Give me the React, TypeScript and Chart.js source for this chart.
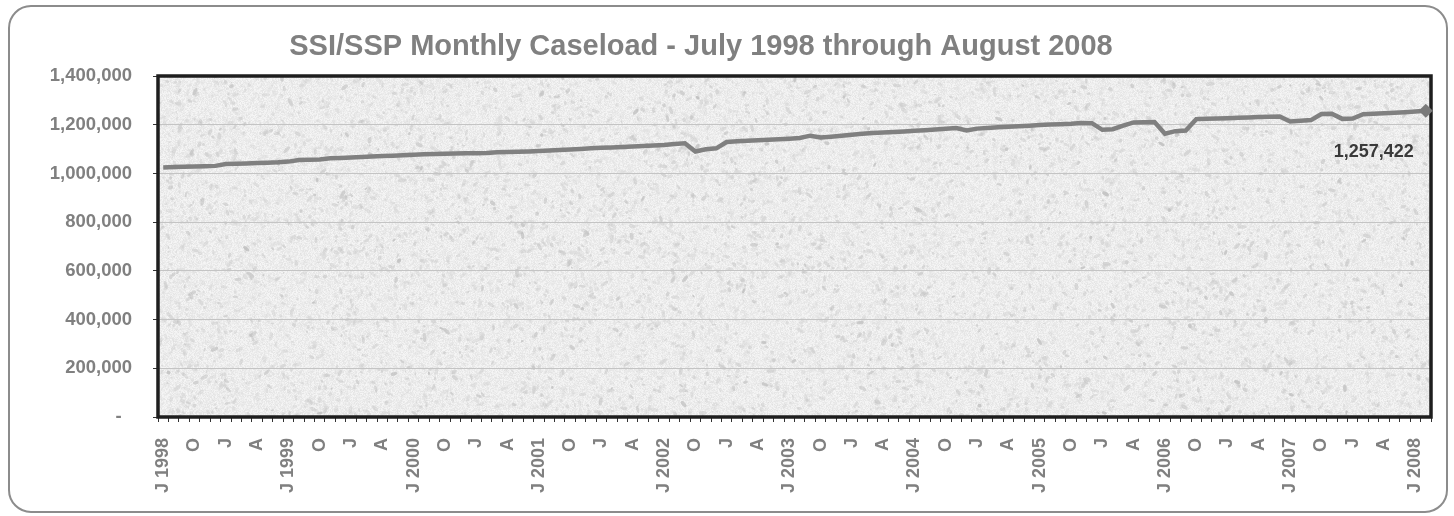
import React, { useEffect, useRef } from "react";
import { Chart, registerables } from "chart.js";

Chart.register(...registerables);

// ---- Data ----
const monthNames = ["Jul", "Aug", "Sep", "Oct", "Nov", "Dec", "Jan", "Feb", "Mar", "Apr", "May", "Jun"];
const monthInitials = ["J", "A", "S", "O", "N", "D", "J", "F", "M", "A", "M", "J"];
const firstYear = 1998;
const monthCount = 122; // July 1998 .. August 2008

const categories: string[] = [];
const tickLabels: string[] = [];
for (let i = 0; i < monthCount; i++) {
  const year = firstYear + Math.floor((i + 6) / 12);
  categories.push(`${monthNames[i % 12]} ${year}`);
  if (i % 3 === 0) {
    tickLabels.push(i % 12 === 0 ? `J ${year}` : monthInitials[i % 12]);
  } else {
    tickLabels.push("");
  }
}

const caseload = [
  1024500, 1026000, 1027500, 1028500, 1029500, 1031000, 1038500, 1039500, 1041000, 1042500, 1044000, 1045500,
  1048500, 1055000, 1056000, 1057500, 1062000, 1063500, 1065000, 1067000, 1069000, 1071500, 1073000, 1075000,
  1077000, 1079000, 1080000, 1081000, 1081500, 1082500, 1083000, 1084000, 1086500, 1087500, 1089000, 1090500,
  1092500, 1094500, 1096500, 1098500, 1100500, 1103000, 1105000, 1106500, 1108500, 1110500, 1112500, 1114500,
  1117000, 1120500, 1124000, 1090000, 1099000, 1103000, 1129000, 1132000, 1134000, 1136000, 1138000, 1140000,
  1142500, 1145500, 1155000, 1147500, 1151000, 1155000, 1159000, 1163000, 1166000, 1168000, 1170500, 1172500,
  1175000, 1177500, 1180000, 1183000, 1186500, 1176000, 1184000, 1187000, 1190000, 1192000, 1194000, 1196000,
  1198500, 1200500, 1202000, 1204000, 1207500, 1206500, 1179000, 1181500, 1196000, 1209500, 1210500, 1211000,
  1163000, 1173500, 1176000, 1223000, 1224000, 1225500, 1227000, 1228500, 1230000, 1231500, 1232500, 1233500,
  1213000, 1216000, 1219000, 1244000, 1245000, 1224000, 1225000, 1243000, 1245500, 1247500, 1249500, 1251500,
  1254000, 1257422,
];

const yTicks = [0, 200000, 400000, 600000, 800000, 1000000, 1200000, 1400000];
const chartTitle = "SSI/SSP Monthly Caseload - July 1998 through August 2008";

const FONT = "Arial, 'Liberation Sans', sans-serif";
const W = 1454;
const H = 516;

function makeTexture(w: number, h: number): HTMLCanvasElement {
  const c = document.createElement("canvas");
  c.width = w;
  c.height = h;
  const g = c.getContext("2d")!;
  let s = 987654321;
  const rnd = () => {
    s = (s * 1103515245 + 12345) & 0x7fffffff;
    return s / 0x7fffffff;
  };
  const img = g.createImageData(w, h);
  for (let p = 0; p < w * h; p++) {
    const v = Math.round(237 + (rnd() - 0.5) * 18);
    img.data[p * 4] = v;
    img.data[p * 4 + 1] = v;
    img.data[p * 4 + 2] = v;
    img.data[p * 4 + 3] = 255;
  }
  g.putImageData(img, 0, 0);
  const n = Math.round((w * h) / 40);
  for (let k = 0; k < n; k++) {
    const x = rnd() * w;
    const y = rnd() * h;
    const r = 0.5 + rnd() * 1.4;
    const gray = Math.round(185 + rnd() * 40);
    g.fillStyle = `rgba(${gray},${gray},${gray},${0.2 + rnd() * 0.35})`;
    g.beginPath();
    g.ellipse(x, y, r * (1 + rnd() * 1.5), r, rnd() * Math.PI, 0, Math.PI * 2);
    g.fill();
  }
  return c;
}

export default function App() {
  const ref = useRef<HTMLCanvasElement | null>(null);

  useEffect(() => {
    const canvas = ref.current;
    if (!canvas) return;
    const texture = makeTexture(1300, 360);

    const decor = {
      id: "decor",
      beforeDraw(chart: any) {
        const ctx = chart.ctx as CanvasRenderingContext2D;
        const a = chart.chartArea;
        ctx.save();
        ctx.fillStyle = "#ffffff";
        ctx.fillRect(0, 0, W, H);
        // outer rounded frame
        const x0 = 9, y0 = 6, x1 = 1447, y1 = 512, r = 22;
        ctx.beginPath();
        ctx.moveTo(x0 + r, y0);
        ctx.lineTo(x1 - r, y0);
        ctx.arcTo(x1, y0, x1, y0 + r, r);
        ctx.lineTo(x1, y1 - r);
        ctx.arcTo(x1, y1, x1 - r, y1, r);
        ctx.lineTo(x0 + r, y1);
        ctx.arcTo(x0, y1, x0, y1 - r, r);
        ctx.lineTo(x0, y0 + r);
        ctx.arcTo(x0, y0, x0 + r, y0, r);
        ctx.closePath();
        ctx.lineWidth = 2;
        ctx.strokeStyle = "#8c8c8c";
        ctx.stroke();
        // textured plot area
        ctx.drawImage(texture, 0, 0, a.right - a.left, a.bottom - a.top, a.left, a.top, a.right - a.left, a.bottom - a.top);
        // title
        ctx.fillStyle = "#808080";
        ctx.font = `bold 29px ${FONT}`;
        ctx.textAlign = "center";
        ctx.textBaseline = "alphabetic";
        ctx.fillText(chartTitle, 701, 55);
        ctx.restore();
      },
      beforeDatasetsDraw(chart: any) {
        const ctx = chart.ctx as CanvasRenderingContext2D;
        const a = chart.chartArea;
        ctx.save();
        ctx.strokeStyle = "#1e1e1e";
        ctx.lineWidth = 3.5;
        ctx.strokeRect(a.left, a.top, a.right - a.left, a.bottom - a.top);
        ctx.restore();
      },
      afterDatasetsDraw(chart: any) {
        const ctx = chart.ctx as CanvasRenderingContext2D;
        const meta = chart.getDatasetMeta(0);
        const last = meta.data[meta.data.length - 1];
        if (!last) return;
        const v = caseload[caseload.length - 1];
        ctx.save();
        ctx.fillStyle = "#3a3a3a";
        ctx.font = `bold 18px ${FONT}`;
        ctx.textAlign = "right";
        ctx.textBaseline = "alphabetic";
        ctx.fillText(v.toLocaleString("en-US"), last.x - 12, last.y + 46);
        ctx.restore();
      },
    };

    const chart = new Chart(canvas, {
      type: "line",
      data: {
        labels: categories,
        datasets: [
          {
            data: caseload,
            borderColor: "#808080",
            backgroundColor: "#808080",
            borderWidth: 4.5,
            tension: 0,
            pointStyle: "rectRot",
            pointRadius: (c: any) => (c.dataIndex === caseload.length - 1 ? 7 : 0),
            pointHoverRadius: 0,
            pointBorderWidth: 0,
            pointBackgroundColor: "#7a7a7a",
          },
        ],
      },
      options: {
        animation: false,
        responsive: false,
        devicePixelRatio: 1,
        layout: { padding: { left: 0, top: 76, right: 23, bottom: 0 } },
        plugins: {
          legend: { display: false },
          title: { display: false },
          tooltip: { enabled: false },
        },
        scales: {
          x: {
            type: "category",
            offset: true,
            border: { display: false },
            grid: {
              display: true,
              drawOnChartArea: false,
              drawTicks: true,
              tickLength: 5,
              tickColor: "#333333",
              offset: true,
            },
            ticks: {
              autoSkip: false,
              maxRotation: 90,
              minRotation: 90,
              padding: 16,
              color: "#808080",
              font: { family: FONT, size: 18, weight: "bold" },
              callback: (_v: any, i: number) => tickLabels[i],
            },
            afterFit: (s: any) => {
              s.height = H - 417;
              s.paddingLeft = 0;
              s.paddingRight = 0;
            },
          },
          y: {
            min: 0,
            max: 1400000,
            border: { display: false },
            afterBuildTicks: (s: any) => {
              s.ticks = yTicks.map((value) => ({ value }));
            },
            grid: {
              color: "#c4c4c4",
              lineWidth: 1,
              drawTicks: true,
              tickLength: 5,
              tickColor: "#333333",
            },
            ticks: {
              padding: 21,
              color: "#808080",
              font: { family: FONT, size: 18.5, weight: "bold" },
              callback: (v: any) => (v === 0 ? "-  " : Number(v).toLocaleString("en-US")),
            },
            afterFit: (s: any) => {
              s.width = 158;
              s.paddingTop = 0;
              s.paddingBottom = 0;
            },
          },
        },
      },
      plugins: [decor],
    } as any);

    return () => chart.destroy();
  }, []);

  return (
    <div style={{ position: "fixed", left: 0, top: 0, width: W, height: H, background: "#fff" }}>
      <canvas ref={ref} width={W} height={H} style={{ display: "block", width: W, height: H }} />
    </div>
  );
}
